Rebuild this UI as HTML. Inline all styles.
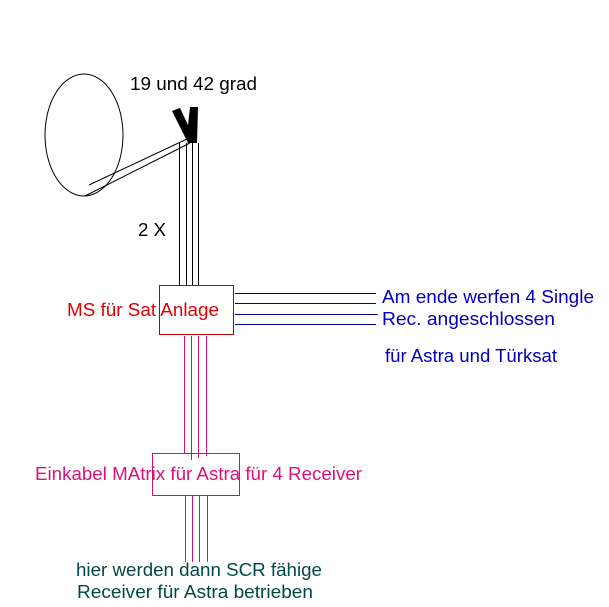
<!DOCTYPE html>
<html><head><meta charset="utf-8"><style>
html,body{margin:0;padding:0;background:#fff;width:609px;height:607px;overflow:hidden}
svg{display:block}
text{font-family:"Liberation Sans",Arial,sans-serif;font-size:18px}
</style></head><body>
<svg width="609" height="607" viewBox="0 0 609 607" xmlns="http://www.w3.org/2000/svg">
<rect width="609" height="607" fill="#fff"/>
<ellipse cx="84" cy="135" rx="39" ry="61" fill="none" stroke="#000" stroke-width="1"/>
<line x1="89" y1="185" x2="187" y2="139" stroke="#000"/>
<line x1="85" y1="196" x2="190" y2="143" stroke="#000"/>
<path d="M172,111 L180,108 L188,125 L190,107 L198,107 L197,143 L188,143 Z" fill="#000"/>
<g stroke="#000" stroke-width="1">
<line x1="179.5" y1="143" x2="179.5" y2="285"/>
<line x1="186.5" y1="143" x2="186.5" y2="285"/>
<line x1="192.5" y1="143" x2="192.5" y2="285"/>
<line x1="198.5" y1="143" x2="198.5" y2="285"/>
</g>
<rect x="159.5" y="285.5" width="74" height="49" fill="none" stroke="#c00000"/>
<g stroke="#000090" stroke-width="1">
<line x1="235" y1="293.5" x2="376" y2="293.5"/>
<line x1="235" y1="303.5" x2="376" y2="303.5"/>
<line x1="235" y1="314.5" x2="378" y2="314.5"/>
<line x1="235" y1="324.5" x2="376" y2="324.5"/>
</g>
<g stroke="#d0107a" stroke-width="1">
<line x1="184.5" y1="336" x2="184.5" y2="454"/>
<line x1="191.5" y1="336" x2="191.5" y2="460"/>
<line x1="198.5" y1="336" x2="198.5" y2="458"/>
<line x1="206.5" y1="336" x2="206.5" y2="456"/>
<rect x="152.5" y="453.5" width="87" height="42" fill="none"/>
<line x1="185.5" y1="496" x2="185.5" y2="562"/>
<line x1="192.5" y1="496" x2="192.5" y2="562"/>
<line x1="199.5" y1="496" x2="199.5" y2="562"/>
<line x1="207.5" y1="496" x2="207.5" y2="562"/>
</g>
<text x="130" y="90" fill="#000" textLength="127" lengthAdjust="spacingAndGlyphs">19 und 42 grad</text>
<text x="138" y="236" fill="#000" textLength="28" lengthAdjust="spacingAndGlyphs">2 X</text>
<text x="67" y="316" fill="#e00000" textLength="152" lengthAdjust="spacingAndGlyphs">MS für Sat Anlage</text>
<text x="382" y="303" fill="#0000c0" textLength="212" lengthAdjust="spacingAndGlyphs">Am ende werfen 4 Single</text>
<text x="382" y="325" fill="#0000c0" textLength="173" lengthAdjust="spacingAndGlyphs">Rec. angeschlossen</text>
<text x="385" y="362" fill="#0000c0" font-size="17" textLength="172" lengthAdjust="spacingAndGlyphs">für Astra und Türksat</text>
<text x="35" y="480" fill="#e0107a" textLength="327" lengthAdjust="spacingAndGlyphs">Einkabel MAtrix für Astra für 4 Receiver</text>
<text x="76" y="576" fill="#004848" textLength="246" lengthAdjust="spacingAndGlyphs">hier werden dann SCR fähige</text>
<text x="77" y="598" fill="#004848" textLength="236" lengthAdjust="spacingAndGlyphs">Receiver für Astra betrieben</text>
</svg>
</body></html>
